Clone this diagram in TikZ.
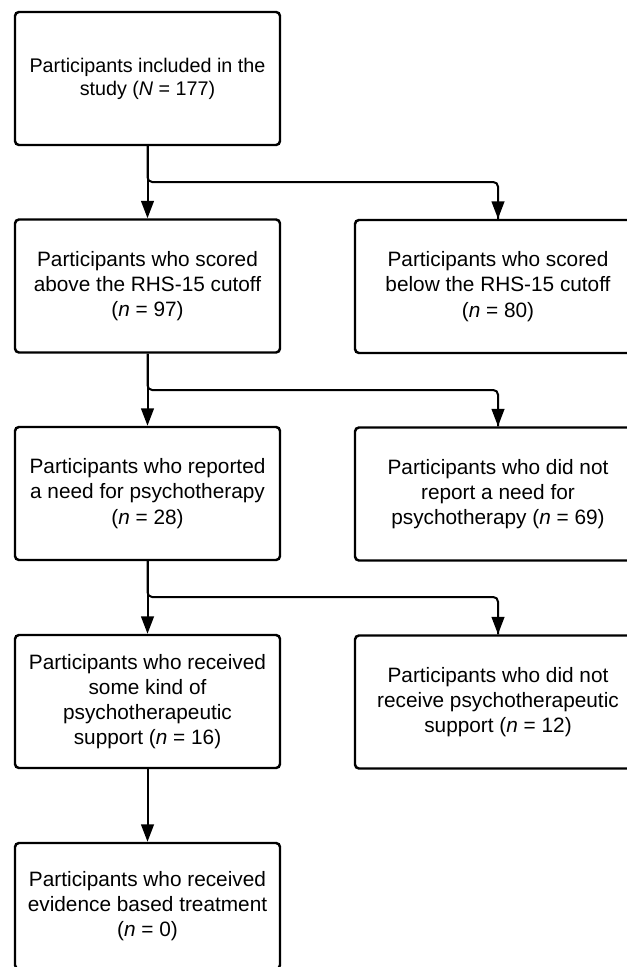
\documentclass[tikz,border=0pt]{standalone}
\usepackage{fontspec}
\setmainfont{Liberation Sans}
\usetikzlibrary{arrows.meta}
\begin{document}
\begin{tikzpicture}[x=0.75pt,y=-0.75pt,
  box/.style={draw, line width=1.85pt, rounded corners=3pt, inner sep=0pt,
    minimum width=198.75pt, minimum height=99.75pt, align=center,
    font=\fontsize{15.6pt}{18.9pt}\selectfont},
  topbox/.style={box, font=\fontsize{14.8pt}{17.4pt}\selectfont},
  rbox/.style={box, minimum width=214.5pt},
  conn/.style={line width=1.5pt, -{Triangle[length=13pt,width=9.5pt]}},
  link/.style={line width=1.5pt, rounded corners=3.5pt}]
\useasboundingbox (0,0) rectangle (627,967);
\clip (0,0) rectangle (627,967);
\fill[white] (0,0) rectangle (627,967);
\node[topbox] (b1) at (147.5,78.5) {Participants included in the\\study (\textit{N} = 177)};
\node[box] (b2) at (147.5,286) {Participants who scored\\above the RHS-15 cutoff\\(\textit{n} = 97)};
\node[rbox] (r2) at (498,286.5) {Participants who scored\\below the RHS-15 cutoff\\(\textit{n} = 80)};
\node[box] (b3) at (147.5,493.5) {Participants who reported\\a need for psychotherapy\\(\textit{n} = 28)};
\node[rbox] (r3) at (498,494) {Participants who did not\\report a need for\\psychotherapy (\textit{n} = 69)};
\node[box] (b4) at (147.5,701.5) {Participants who received\\some kind of\\psychotherapeutic\\support (\textit{n} = 16)};
\node[rbox] (r4) at (498,702) {Participants who did not\\receive psychotherapeutic\\support (\textit{n} = 12)};
\node[box, minimum height=94.5pt] (b5) at (147.5,906) {Participants who received\\evidence based treatment\\(\textit{n} = 0)};
\coordinate (h1) at (0,182);
\coordinate (h2) at (0,390);
\coordinate (h3) at (0,597);
\coordinate (j1) at (b1.south |- h1);
\coordinate (j2) at (b2.south |- h2);
\coordinate (j3) at (b3.south |- h3);
\draw[conn] (b1) -- (b2);
\draw[conn] (b2) -- (b3);
\draw[conn] (b3) -- (b4);
\draw[conn] (b4) -- (b5);
\draw[link] (b1.south) -- (j1) -| (r2.north);
\draw[link] (b2.south) -- (j2) -| (r3.north);
\draw[link] (b3.south) -- (j3) -| (r4.north);
\draw[conn] ([yshift=15pt]r2.north) -- (r2.north);
\draw[conn] ([yshift=15pt]r3.north) -- (r3.north);
\draw[conn] ([yshift=15pt]r4.north) -- (r4.north);
\end{tikzpicture}
\end{document}
